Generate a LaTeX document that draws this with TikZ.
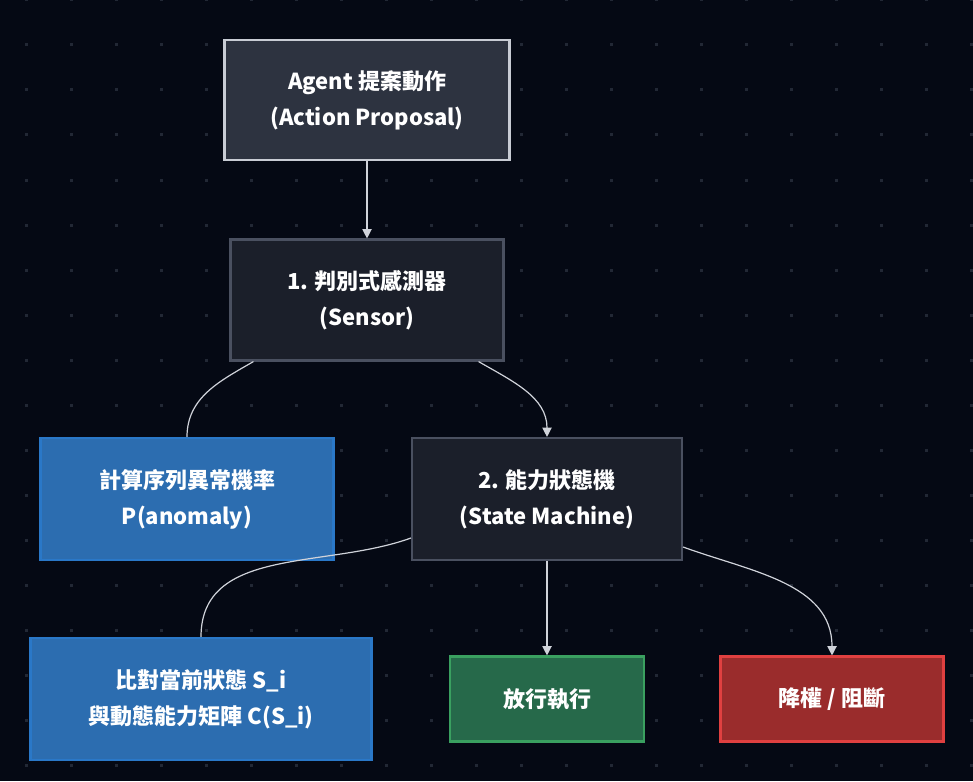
\documentclass[tikz,border=0pt]{standalone}
\usepackage{fontspec}
\setmainfont{Noto Sans CJK TC}
\usetikzlibrary{positioning,arrows.meta}
\definecolor{bgc}{HTML}{050914}
\definecolor{dotc}{HTML}{222835}
\definecolor{edgec}{HTML}{D0D3DA}
\definecolor{darkfill}{HTML}{1B1F2A}
\definecolor{darkdraw}{HTML}{4A5060}
\definecolor{agentfill}{HTML}{2D3340}
\definecolor{agentdraw}{HTML}{C8CCD4}
\definecolor{bluefill}{HTML}{2C6DB0}
\definecolor{bluedraw}{HTML}{2A78C8}
\definecolor{greenfill}{HTML}{26694A}
\definecolor{greendraw}{HTML}{3AA060}
\definecolor{redfill}{HTML}{9A2C2C}
\definecolor{reddraw}{HTML}{E04040}
\tikzset{
  line/.style={edgec, line width=0.9pt},
  arr/.style={line, -{Triangle[length=7pt,width=7pt]}},
  box/.style={draw, align=center, text=white, line width=1.6pt, inner sep=0pt,
    font=\fontsize{16.5}{27}\selectfont\bfseries},
  darkbox/.style={box, fill=darkfill, draw=darkdraw},
  bluebox/.style={box, fill=bluefill, draw=bluedraw},
}
\begin{document}
\begin{tikzpicture}[x=0.75pt, y=-0.75pt]
  % background and dot grid
  \fill[bgc] (0,0) rectangle (973,781);
  \useasboundingbox (0,0) rectangle (973,781);
  \foreach \i in {0,...,21}
    \foreach \j in {0,...,17}
      \fill[dotc] (26+45*\i-1.5, 45*\j-1.5) rectangle ++(3,3);

  % nodes
  \node[box, fill=agentfill, draw=agentdraw, minimum width=213.75pt, minimum height=90pt]
    (agent) at (367,100) {Agent 提案動作\\(Action Proposal)};
  \node[darkbox, minimum width=204.75pt, minimum height=90.75pt]
    (sensor) at (367,300) {1. 判別式感測器\\(Sensor)};
  \node[bluebox, minimum width=219.75pt, minimum height=91.5pt]
    (prob) at (187,499) {計算序列異常機率\\P(anomaly)};
  \node[darkbox, minimum width=202.5pt, minimum height=91.5pt]
    (fsm) at (547,499) {2. 能力狀態機\\(State Machine)};
  \node[bluebox, minimum width=255.75pt, minimum height=91.5pt]
    (compare) at (201,699) {比對當前狀態 S\_i\\與動態能力矩陣 C(S\_i)};
  \node[box, fill=greenfill, draw=greendraw, minimum width=145.5pt, minimum height=63.75pt]
    (allow) at (547,699) {放行執行};
  \node[box, fill=redfill, draw=reddraw, minimum width=167.25pt, minimum height=63.75pt]
    (deny) at (832,699) {降權 / 阻斷};

  % connectors
  \draw[line] (sensor.south west) ++(24,0) coordinate (s1) (s1) to[out=-150, in=90] (prob.north);
  \draw[arr] (agent.south) -- (sensor.north);
  \draw[arr] (sensor.south east) ++(-26,0) coordinate (s2) (s2) to[out=-30, in=90] (fsm.north);
  \draw[line] (fsm.west) ++(0,39) coordinate (f1) (f1) to[out=-160, in=90] (compare.north);
  \draw[arr] (fsm.south) -- (allow.north);
  \draw[arr] (fsm.east) ++(0,48) coordinate (f2) (f2) to[out=-20, in=90] (deny.north);
\end{tikzpicture}
\end{document}
